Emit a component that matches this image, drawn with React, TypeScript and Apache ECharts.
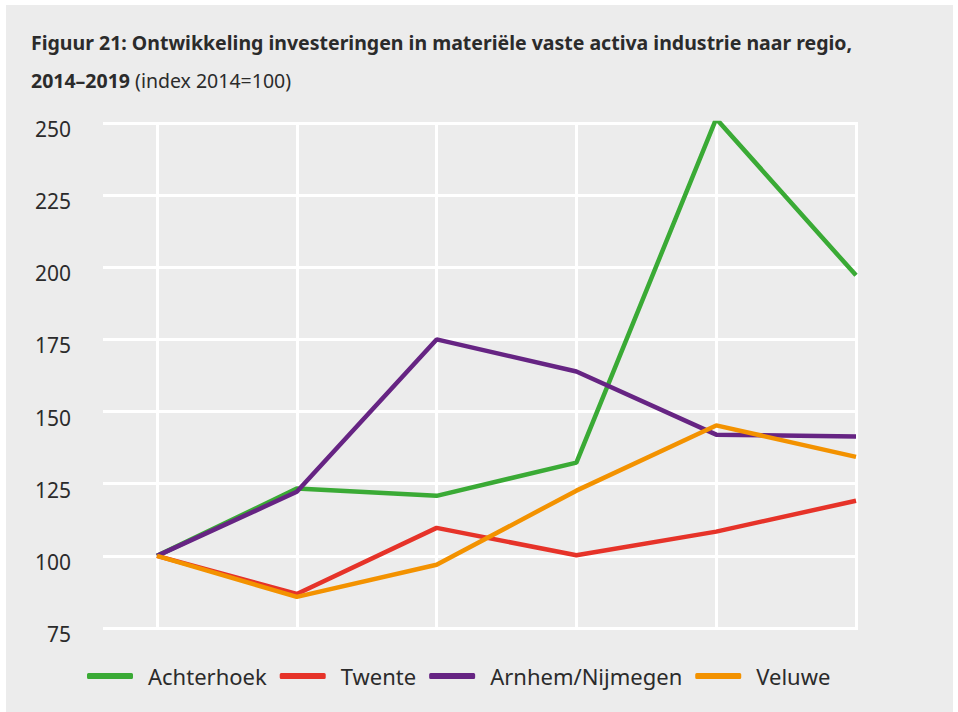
import React, { useEffect, useRef } from "react";
import * as echarts from "echarts";

const years = ["2014", "2015", "2016", "2017", "2018", "2019"];
const achterhoek = [100, 123.3, 120.8, 132.3, 251.5, 197.2];
const twente = [100, 86.8, 109.7, 100.2, 108.4, 119.1];
const arnhemNijmegen = [100, 122.2, 175, 163.9, 142, 141.4];
const veluwe = [100, 85.8, 96.9, 122.6, 145.2, 134.3];
const seriesNames = ["Achterhoek", "Twente", "Arnhem/Nijmegen", "Veluwe"];
const seriesColors = ["#3aaa35", "#e63329", "#662483", "#f39200"];
const yMin = 75;
const yMax = 250;
const yStep = 25;

const titleLine1 = "Figuur 21: Ontwikkeling investeringen in materiële vaste activa industrie naar regio,";
const titleBold2 = "2014–2019";
const titleRegular2 = " (index 2014=100)";

export default function App() {
  const ref = useRef<HTMLDivElement>(null);
  useEffect(() => {
    if (!ref.current) return;
    const chart = echarts.init(ref.current, undefined, { renderer: "svg" });
    const values = [achterhoek, twente, arnhemNijmegen, veluwe];
    const font = "'Noto Sans', 'Open Sans', sans-serif";
    chart.setOption({
      animation: false,
      textStyle: { fontFamily: font },
      title: {
        left: 26,
        top: 18,
        text:
          "{b|" + titleLine1 + "}\n{b|" + titleBold2 + "}{r|" + titleRegular2 + "}",
        textStyle: {
          rich: {
            b: { fontFamily: font, fontWeight: "bold", fontSize: 19.5, color: "#2b2b2b", lineHeight: 38 },
            r: { fontFamily: font, fontWeight: "normal", fontSize: 19.5, color: "#2b2b2b", lineHeight: 38 },
          },
        },
      },
      legend: {
        top: 660,
        left: 82,
        icon: "roundRect",
        itemWidth: 46,
        itemHeight: 6,
        itemGap: 13,
        textStyle: { fontSize: 22, color: "#2b2b2b", padding: [0, 0, 0, 10], fontFamily: font },
        data: seriesNames,
      },
      grid: [
        { left: 157, right: 102, top: 123, bottom: 84 },
        { left: 103, right: 100, top: 123, bottom: 84 },
      ],
      xAxis: [
        {
          gridIndex: 0,
          type: "category",
          boundaryGap: false,
          data: years,
          axisLine: { show: false },
          axisTick: { show: false },
          axisLabel: { show: false },
          splitLine: { show: true, lineStyle: { color: "#ffffff", width: 3 } },
        },
        {
          gridIndex: 1,
          type: "value",
          show: false,
          min: 0,
          max: 1,
        },
      ],
      yAxis: [
        {
          gridIndex: 0,
          type: "value",
          min: yMin,
          max: yMax,
          interval: yStep,
          show: false,
          splitLine: { show: false },
        },
        {
          gridIndex: 1,
          type: "value",
          min: yMin,
          max: yMax,
          interval: yStep,
          axisLine: { show: false },
          axisTick: { show: false },
          axisLabel: {
            fontSize: 21,
            color: "#2b2b2b",
            margin: 32,
            verticalAlign: "top",
            lineHeight: 12,
            fontFamily: font,
          },
          splitLine: { show: true, lineStyle: { color: "#ffffff", width: 3 } },
        },
      ],
      series: seriesNames.map((name, i) => ({
        name,
        type: "line",
        xAxisIndex: 0,
        yAxisIndex: 0,
        data: values[i],
        symbol: "none",
        color: seriesColors[i],
        lineStyle: { width: 4.5, color: seriesColors[i] },
        itemStyle: { color: seriesColors[i] },
      })),
    });
    return () => chart.dispose();
  }, []);
  return (
    <div style={{ position: "fixed", left: 0, top: 0, width: 958, height: 712, background: "#ffffff" }}>
      <div style={{ position: "absolute", left: 6, top: 5, width: 947, height: 707, background: "#ececec" }} />
      <div ref={ref} style={{ position: "absolute", left: 0, top: 0, width: 958, height: 712 }} />
    </div>
  );
}
